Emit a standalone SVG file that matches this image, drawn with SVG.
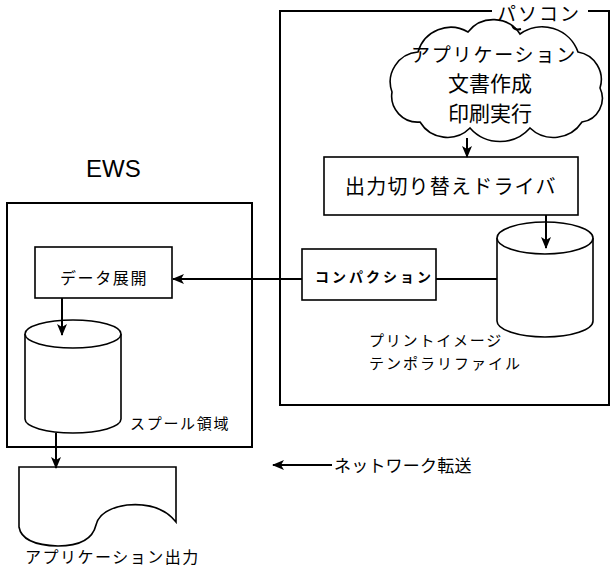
<svg xmlns="http://www.w3.org/2000/svg" width="612" height="573" viewBox="0 0 612 573">
<style>
.ln{fill:none;stroke:#000;stroke-width:2}
.bx{fill:#fff;stroke:#000;stroke-width:1.6}
.tx{font-family:"Noto Sans CJK JP","Noto Sans",sans-serif;fill:#000}
</style>
<defs>
<marker id="ah" markerWidth="12" markerHeight="10" refX="11" refY="5" orient="auto" markerUnits="userSpaceOnUse">
<path d="M0,0 L12,5 L0,10 L3,5 Z" fill="#000"/>
</marker>
</defs>
<rect width="612" height="573" fill="#fff"/>
<g id="cloud">
<path class="bx" d="M392,92 A30,30 0 0 1 418,52 A34,34 0 0 1 468,32 A32,32 0 0 1 520,34 A38,38 0 0 1 578,52 A28,28 0 0 1 600,88 A24,24 0 0 1 582,122 A34,34 0 0 1 530,128 A40,40 0 0 1 470,128 A32,32 0 0 1 420,122 A26,26 0 0 1 392,92 Z"/>
<path class="ln" stroke-width="1.4" d="M512,25 Q514,31 521,29"/>
<text class="tx" x="411" y="62" font-size="19" letter-spacing="1.8">アプリケーション</text>
<text class="tx" x="490" y="91" font-size="21" text-anchor="middle">文書作成</text>
<text class="tx" x="490" y="121" font-size="21" text-anchor="middle">印刷実行</text>
</g>
<g id="pc">
<path class="ln" d="M492,11 H280 V405 H609 V11 H588"/>
<text class="tx" x="497" y="21" font-size="19" letter-spacing="2">パソコン</text>
</g>
<g id="driver">
<rect class="bx" x="324" y="157" width="254" height="58"/>
<text class="tx" x="345" y="194" font-size="20" letter-spacing="1.2">出力切り替えドライバ</text>
</g>
<g id="printimage">
<path class="bx" d="M497,238 V321 A48,16 0 0 0 593,321 V238"/>
<ellipse class="bx" cx="545" cy="238" rx="48" ry="16"/>
<text class="tx" x="369" y="346" font-size="15" letter-spacing="1.8">プリントイメージ</text>
<text class="tx" x="369" y="369" font-size="15" letter-spacing="2">テンポラリファイル</text>
</g>
<g id="compaction">
<rect class="bx" x="302" y="249" width="134" height="51"/>
<text class="tx" x="315" y="282" font-size="14" font-weight="bold" letter-spacing="3">コンパクション</text>
</g>
<g id="ews">
<rect class="ln" x="7" y="203" width="245" height="244"/>
<text x="86" y="177" font-family="Liberation Sans, Arial, sans-serif" font-size="24">EWS</text>
</g>
<g id="data">
<rect class="bx" x="35" y="247" width="137" height="51"/>
<text class="tx" x="60" y="284" font-size="16" letter-spacing="1.6">データ展開</text>
</g>
<g id="spool">
<path class="bx" d="M25,334 V419 A48,14 0 0 0 121,419 V334"/>
<ellipse class="bx" cx="73" cy="334" rx="48" ry="14"/>
<text class="tx" x="130" y="429" font-size="15" letter-spacing="1.7">スプール領域</text>
</g>
<g id="output">
<path class="bx" d="M19,467 H176 V522 Q160,502 127,505 Q100,509 96,525 Q91,546 58,546 Q22,545 19,527 Z"/>
<text class="tx" x="25" y="563" font-size="16" letter-spacing="1.5">アプリケーション出力</text>
</g>
<g id="network">
<text class="tx" x="334" y="472" font-size="17" letter-spacing="0.2">ネットワーク転送</text>
</g>
<g id="connectors">
<line class="ln" x1="467" y1="138" x2="467" y2="157" marker-end="url(#ah)"/>
<line class="ln" x1="546" y1="215" x2="546" y2="248" marker-end="url(#ah)"/>
<line class="ln" x1="497" y1="279" x2="436" y2="279"/>
<line class="ln" x1="302" y1="279" x2="173" y2="279" marker-end="url(#ah)"/>
<line class="ln" x1="62" y1="298" x2="62" y2="335" marker-end="url(#ah)"/>
<line class="ln" x1="56" y1="433" x2="56" y2="468" marker-end="url(#ah)"/>
<line class="ln" x1="332" y1="465" x2="273" y2="465" marker-end="url(#ah)"/>
</g>
</svg>
